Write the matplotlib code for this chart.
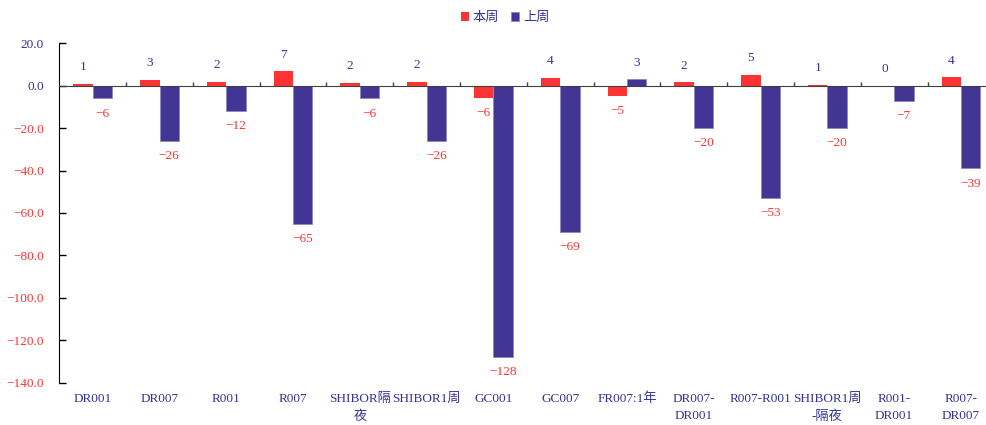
import numpy as np
import matplotlib
matplotlib.use("Agg")
import matplotlib.pyplot as plt
from matplotlib.ticker import FuncFormatter
from matplotlib.transforms import blended_transform_factory

plt.rcParams['font.family'] = ['Liberation Serif', 'Noto Sans CJK SC']
plt.rcParams['axes.unicode_minus'] = True

categories = ["DR001", "DR007", "R001", "R007", "SHIBOR隔\n夜", "SHIBOR1周", "GC001",
              "GC007", "FR007:1年", "DR007-\nDR001", "R007-R001", "SHIBOR1周\n-隔夜",
              "R001-\nDR001", "R007-\nDR007"]
this_week = [0.8, 2.8, 2.0, 6.8, 1.5, 2.0, -5.6, 3.8, -4.8, 1.6, 5.0, 0.55, 0.1, 4.0]
last_week = [-6, -26, -12, -65, -6, -26, -128, -69, 3, -20, -53, -20, -7, -39]
series_names = ["本周", "上周"]

red = '#FF3333'
blue = '#433594'
txt_blue = '#333399'

fig = plt.figure(figsize=(9.87, 4.25), dpi=100)
ax = fig.add_axes([0.0601, 0.1, 0.9399, 0.798])

x = np.arange(len(categories))
w = 0.29
b1 = ax.bar(x - w / 2, this_week, w, color=red, label=series_names[0])
b2 = ax.bar(x + w / 2, last_week, w, color=blue, edgecolor='#8f88c0', linewidth=0.6,
            label=series_names[1])


def fmt(v):
    s = f"{v:.0f}"
    return s.replace('-', '\u2212')


for bars, vals in [(b1, this_week), (b2, last_week)]:
    for rect, v in zip(bars, vals):
        cx = rect.get_x() + rect.get_width() / 2
        if v >= 0:
            ax.annotate(fmt(v), (cx, v), xytext=(0, 12), textcoords='offset points',
                        ha='center', va='center', fontsize=9.5, color=txt_blue)
        else:
            ax.annotate(fmt(v), (cx, v), xytext=(0, -11), textcoords='offset points',
                        ha='center', va='center', fontsize=9.5, color=red)

ax.set_ylim(-140, 20)
ax.set_xlim(-0.5, 13.39)
ax.set_yticks(np.arange(-140, 21, 20))
ax.yaxis.set_major_formatter(FuncFormatter(lambda v, p: f"{v:.1f}".replace('-', '\u2212')))
ax.tick_params(axis='y', direction='in', length=5, width=1, pad=11, labelsize=9.5)
for lab, v in zip(ax.get_yticklabels(), ax.get_yticks()):
    lab.set_color(red if v < 0 else txt_blue)

ax.spines['top'].set_visible(False)
ax.spines['right'].set_visible(False)
ax.spines['bottom'].set_position(('data', 0))
ax.spines['bottom'].set_color('#404040')
ax.spines['left'].set_color('black')

ax.set_xticks(x[:-1] + 0.5)
ax.set_xticklabels([])
ax.tick_params(axis='x', direction='in', length=3, width=1, color='#404040')

trans = blended_transform_factory(ax.transData, ax.transAxes)
for xi, c in zip(x, categories):
    ax.text(xi, -0.03, c, transform=trans, ha='center', va='top', fontsize=9.5,
            color=txt_blue, linespacing=1.6)

leg = fig.legend(loc='upper center', bbox_to_anchor=(0.512, 1.0), ncol=2, frameon=False,
                 handlelength=0.6, handleheight=0.6, handletextpad=0.3, columnspacing=0.9,
                 fontsize=9.5)
for t in leg.get_texts():
    t.set_color(txt_blue)

fig.savefig("out.png", dpi=100)
